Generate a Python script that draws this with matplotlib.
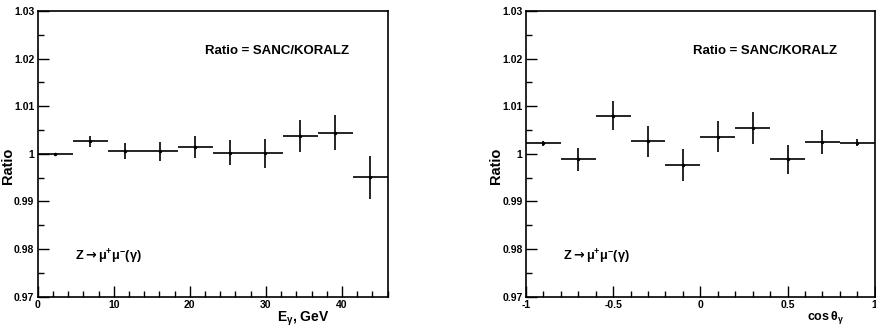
import numpy as np
import matplotlib.pyplot as plt
from matplotlib.ticker import MultipleLocator, FixedLocator

plt.rcParams['font.family'] = ['Liberation Sans', 'DejaVu Sans']
plt.rcParams['font.weight'] = 'bold'
plt.rcParams['mathtext.fontset'] = 'custom'
plt.rcParams['mathtext.rm'] = 'Liberation Sans:bold'
plt.rcParams['mathtext.bf'] = 'Liberation Sans:bold'
plt.rcParams['mathtext.it'] = 'Liberation Sans:bold'
plt.rcParams['mathtext.sf'] = 'DejaVu Sans:bold'
plt.rcParams['mathtext.default'] = 'bf'

# left panel: photon energy bins
e_edges = np.linspace(0, 46, 11)
e_ratio = [1.0000, 1.0026, 1.0006, 1.0005, 1.0014, 1.0002, 1.0001, 1.0037, 1.0044, 0.9951]
e_err = [0.0002, 0.0011, 0.0016, 0.0020, 0.0023, 0.0026, 0.0030, 0.0033, 0.0037, 0.0045]

# right panel: cos(theta_gamma) bins
c_edges = np.linspace(-1, 1, 11)
c_ratio = [1.0022, 0.9988, 1.0080, 1.0026, 0.9976, 1.0036, 1.0054, 0.9988, 1.0025, 1.0023]
c_err = [0.0005, 0.0025, 0.0030, 0.0033, 0.0033, 0.0033, 0.0034, 0.0030, 0.0025, 0.0007]

fig = plt.figure(figsize=(8.76, 3.31), dpi=100)
ax1 = fig.add_axes([0.043, 0.104, 0.3995, 0.863])
ax2 = fig.add_axes([0.6005, 0.104, 0.398, 0.863])


def panel(ax, edges, vals, errs, xlabel, xlabx, xlabsize):
    centers = 0.5 * (edges[:-1] + edges[1:])
    half = 0.5 * (edges[1:] - edges[:-1])
    ax.errorbar(centers, vals, xerr=half, yerr=errs, fmt='o', ms=1.5,
                color='black', ecolor='black', elinewidth=1.2, capsize=0)
    ax.set_xlim(edges[0], edges[-1])
    ax.set_ylim(0.97, 1.03)
    ax.yaxis.set_major_locator(FixedLocator([0.97, 0.98, 0.99, 1.0, 1.01, 1.02, 1.03]))
    ax.set_yticklabels(['0.97', '0.98', '0.99', '1', '1.01', '1.02', '1.03'])
    ax.yaxis.set_minor_locator(MultipleLocator(0.005))
    ax.tick_params(which='both', direction='in', top=False, right=False,
                   labelsize=7.5, width=1, pad=2.5)
    ax.tick_params(which='major', length=8)
    ax.tick_params(which='minor', length=4.5)
    for s in ax.spines.values():
        s.set_linewidth(1.2)
    ax.set_ylabel('Ratio', fontsize=10.5, fontweight='bold')
    ax.yaxis.set_label_coords(-0.066, 0.457)
    ax.text(xlabx, -0.045, xlabel, transform=ax.transAxes, fontsize=xlabsize,
            fontweight='bold', ha='right', va='top')
    ax.text(0.685, 0.86, 'Ratio = SANC/KORALZ', transform=ax.transAxes,
            fontsize=9.5, fontweight='bold', ha='center', va='center')
    ax.text(0.107, 0.138, r'Z$\mathsf{\rightarrow}\mu^{+}\mu^{-}(\gamma)$',
            transform=ax.transAxes, fontsize=9.2, fontweight='bold',
            ha='left', va='center')


panel(ax1, e_edges, e_ratio, e_err, r'E$_{\gamma}$, GeV', 0.835, 10)
ax1.xaxis.set_major_locator(MultipleLocator(10))
ax1.xaxis.set_minor_locator(MultipleLocator(2))
ax1.set_xticks([0, 10, 20, 30, 40], ['0', '10', '20', '30', '40'], fontweight='bold')

panel(ax2, c_edges, c_ratio, c_err, r'cos$\,\theta_{\gamma}$', 0.912, 9)
ax2.xaxis.set_major_locator(FixedLocator([-1, -0.5, 0, 0.5, 1]))
ax2.xaxis.set_minor_locator(MultipleLocator(0.1))
ax2.set_xticks([-1, -0.5, 0, 0.5, 1], ['-1', '-0.5', '0', '0.5', '1'], fontweight='bold')

fig.savefig('out.png', dpi=100)
